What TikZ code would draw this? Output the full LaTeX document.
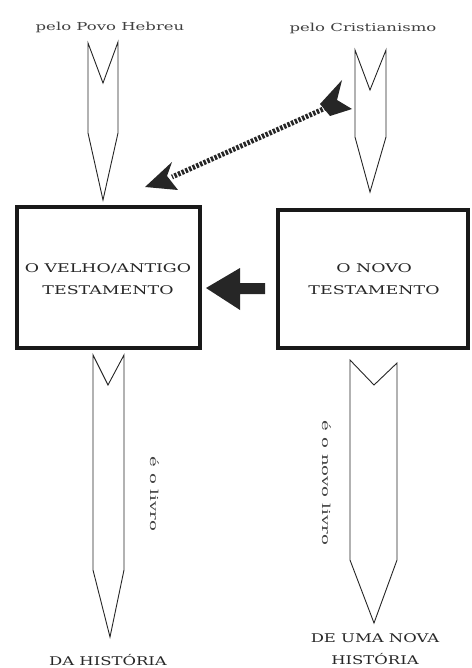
\documentclass[tikz,border=0pt]{standalone}
\usepackage{fontspec}
\setmainfont{DejaVu Serif}
\begin{document}
\begin{tikzpicture}[x=1pt,y=-1pt,
  chev/.style={draw=black!85,line width=0.9pt,line join=miter,fill=white},
  tbox/.style={draw=black!90,line width=4.5pt,fill=white},
  lbl/.style={font=\fontsize{11}{13}\selectfont\addfontfeatures{FakeStretch=1.5},text=black!75,inner sep=0pt},
  vlbl/.style={font=\fontsize{11}{13}\selectfont\addfontfeatures{FakeStretch=1.65},text=black!75,inner sep=0pt},
  btxt/.style={font=\fontsize{12}{22}\selectfont\addfontfeatures{FakeStretch=1.45},text=black!85,align=center,inner sep=0pt},
  ctxt/.style={font=\fontsize{12}{22}\selectfont\addfontfeatures{FakeStretch=1.37},text=black!85,align=center,inner sep=0pt},
  headfill/.style={fill=black!85,draw=none}]
\useasboundingbox (0,0) rectangle (471,668);
% boxes
\draw[tbox] (17,207) rectangle (200,348);
\draw[tbox] (278,210) rectangle (468,348);
\node[btxt] (velho) at (108,279) {O VELHO/ANTIGO\\TESTAMENTO};
\node[btxt] (novo) at (374,279) {O NOVO\\TESTAMENTO};
% top labels
\node[lbl] (ph) at (110,27) {pelo Povo Hebreu};
\node[lbl] (pc) at (363,28) {pelo Cristianismo};
% chevrons
\draw[chev] (88,43) -- (103,83) -- (118,42) -- (118,133) -- (103,200) -- (88,133) -- cycle;
\draw[chev] (355,50) -- (370,90) -- (386,50) -- (386,137) -- (370,192) -- (355,137) -- cycle;
\draw[chev] (93,355) -- (108,385) -- (124,355) -- (124,570) -- (110,637) -- (93,570) -- cycle;
\draw[chev] (350,360) -- (374,385) -- (397,363) -- (397,560) -- (374,623) -- (350,560) -- cycle;
% rotated labels
\node[vlbl,rotate=-90] (l1) at (155,494) {é o livro};
\node[vlbl,rotate=-90] (l2) at (327,483) {é o novo livro};
% bottom labels
\node[ctxt] (dh) at (108,660) {DA HISTÓRIA};
\node[ctxt] (dn) at (375,649) {DE UMA NOVA\\HISTÓRIA};
% thick arrow from novo to velho
\coordinate (ta) at (265,288);
\coordinate (tb) at (206,288);
\fill[headfill] (265,283) -- (240,283) -- (240,268) -- (tb) -- (240,310) -- (240,294) -- (265,294) -- cycle;
% dotted arrow
\coordinate (ds) at (330,106);
\coordinate (de) at (172,177);
\draw[black!85,line width=5pt,dash pattern=on 2.5pt off 1.5pt] (ds) -- (de);
\fill[headfill] (145,187) -- (172,162) -- (167,176) -- (178,190) -- cycle;
\fill[headfill] (320,104) -- (342,80) -- (337,100) -- (352,109) -- (330,116) -- cycle;
\end{tikzpicture}
\end{document}
